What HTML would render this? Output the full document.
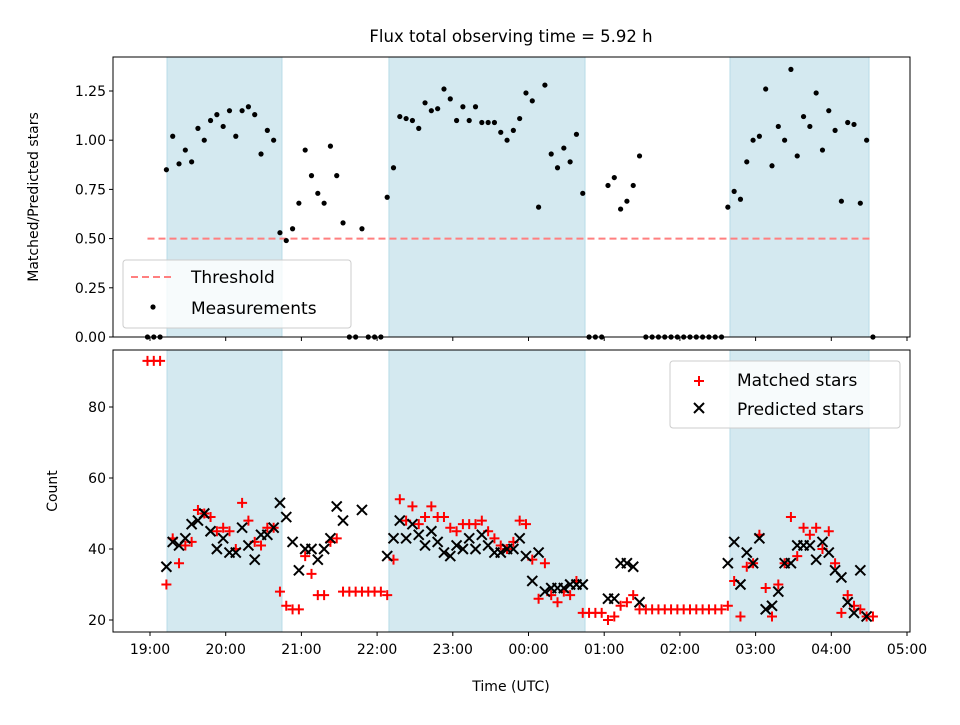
<!DOCTYPE html>
<html><head><meta charset="utf-8">
<style>
body{margin:0;background:#fff;font-family:"Liberation Sans","DejaVu Sans",sans-serif;}
svg text{font-family:"DejaVu Sans","Liberation Sans",sans-serif;fill:#000}
</style></head>
<body>
<svg id="chart" width="960" height="720" viewBox="0 0 960 720" xmlns="http://www.w3.org/2000/svg">
<rect width="960" height="720" fill="#fff"/>
<text x="511" y="42" font-size="16.5" text-anchor="middle">Flux total observing time = 5.92 h</text>
<g id="topPanel"></g>
<g id="botPanel"></g>
<text x="511" y="691" font-size="14" text-anchor="middle">Time (UTC)</text>
<text transform="translate(38,197) rotate(-90)" font-size="14" text-anchor="middle">Matched/Predicted stars</text>
<text transform="translate(57,491) rotate(-90)" font-size="14" text-anchor="middle">Count</text>
</svg>
<script>
const startMin = -2, stepMin = 5;
const ratio = [0,0,0,0.85,1.02,0.88,0.95,0.89,1.06,1.00,1.10,1.13,1.07,1.15,1.02,1.15,1.17,1.13,0.93,1.05,1.00,0.53,0.49,0.55,0.68,0.95,0.82,0.73,0.68,0.97,0.82,0.58,0,0,0.55,0,0,0,0.71,0.86,1.12,1.11,1.10,1.06,1.19,1.15,1.16,1.26,1.21,1.10,1.17,1.10,1.17,1.09,1.09,1.09,1.04,1.00,1.05,1.11,1.24,1.20,0.66,1.28,0.93,0.86,0.96,0.89,1.03,0.73,0,0,0,0.77,0.81,0.65,0.69,0.77,0.92,0,0,0,0,0,0,0,0,0,0,0,0,0,0.66,0.74,0.70,0.89,1.00,1.02,1.26,0.87,1.07,1.00,1.36,0.92,1.12,1.07,1.24,0.95,1.15,1.05,0.69,1.09,1.08,0.68,1.00,0];
const matched = [93,93,93,30,43,36,41,42,51,50,49,45,46,45,40,53,48,42,41,46,46,28,24,23,23,38,33,27,27,42,43,28,28,28,28,28,28,28,27,37,54,48,52,47,49,52,49,49,46,45,47,47,47,48,45,43,41,40,42,48,47,37,26,36,27,25,28,27,31,22,22,22,22,20,21,24,25,27,23,23,23,23,23,23,23,23,23,23,23,23,23,23,24,31,21,35,36,44,29,21,30,36,49,38,46,44,46,40,45,36,22,27,24,23,21,21];
const predicted = [null,null,null,35,42,41,43,47,48,50,45,40,43,39,39,46,41,37,44,44,46,53,49,42,34,40,40,37,40,43,52,48,null,null,51,null,null,null,38,43,48,43,47,44,41,45,42,39,38,41,40,43,40,44,41,39,39,40,40,43,38,31,39,28,29,29,29,30,30,30,null,null,null,26,26,36,36,35,25,null,null,null,null,null,null,null,null,null,null,null,null,null,36,42,30,39,36,43,23,24,28,36,36,41,41,41,37,42,39,34,32,25,22,34,21,null];
const bandStart = [13.5,189.4,459.7];
const bandEnd = [104.6,344.8,569.9];
const threshold = 0.5;
const xTickLabels = ["19:00","20:00","21:00","22:00","23:00","00:00","01:00","02:00","03:00","04:00","05:00"];
const topTicks = [0,0.25,0.5,0.75,1.0,1.25];
const topTickLabels = ["0.00","0.25","0.50","0.75","1.00","1.25"];
const botTicks = [20,40,60,80];

const NS="http://www.w3.org/2000/svg";
const L=113,R=910;
const T1=57,B1=337,T2=350,B2=632;
const X=m=>150+m*75.7/60;
const Y1=v=>337-v*196.8;
const Y2=c=>620-(c-20)*3.55;
function mk(parent,tag,attrs){const e=document.createElementNS(NS,tag);for(const k in attrs)e.setAttribute(k,attrs[k]);parent.appendChild(e);return e;}
const topG=document.getElementById('topPanel'), botG=document.getElementById('botPanel');
const times = ratio.map((_,i)=>startMin+stepMin*i);

[[topG,T1,B1],[botG,T2,B2]].forEach(([g,t,b])=>{
  mk(g,'rect',{x:L,y:t,width:R-L,height:b-t,fill:'#fff'});
  bandStart.forEach((s,i)=>{
    const r=mk(g,'rect',{x:X(s),y:t,width:X(bandEnd[i])-X(s),height:b-t,fill:'#d4e9f0',stroke:'#b8dce7','stroke-width':1});
    
    
  });
});

const th=mk(topG,'line',{x1:X(times[0]),x2:X(times[times.length-1]),y1:Y1(threshold),y2:Y1(threshold),stroke:'#ff7f7f','stroke-width':2,'stroke-dasharray':'7,4'});


ratio.forEach((v,i)=>{
  const c=mk(topG,'circle',{cx:X(times[i]),cy:Y1(v),r:2.6,fill:'#000'});
  
  
});
matched.forEach((v,i)=>{
  if(v==null)return;
  const x=X(times[i]),y=Y2(v);
  const p=mk(botG,'path',{d:`M${x-5},${y}H${x+5}M${x},${y-5}V${y+5}`,stroke:'#f00','stroke-width':2});
  
  
});
predicted.forEach((v,i)=>{
  if(v==null)return;
  const x=X(times[i]),y=Y2(v);
  const p=mk(botG,'path',{d:`M${x-5},${y-5}L${x+5},${y+5}M${x-5},${y+5}L${x+5},${y-5}`,stroke:'#000','stroke-width':2});
  
  
});

[[topG,T1,B1],[botG,T2,B2]].forEach(([g,t,b],pi)=>{
  mk(g,'rect',{x:L,y:t,width:R-L,height:b-t,fill:'none',stroke:'#000','stroke-width':1});
  xTickLabels.forEach((lab,k)=>{
    const x=X(k*60);
    mk(g,'line',{x1:x,x2:x,y1:b,y2:b+4,stroke:'#000'});
    if(pi===1){
      const tx=mk(g,'text',{x:x,y:b+22,'font-size':14,'text-anchor':'middle'});
      tx.textContent=lab;
      
      
    }
  });
});
topTicks.forEach((v,k)=>{
  const y=Y1(v);
  mk(topG,'line',{x1:L-4,x2:L,y1:y,y2:y,stroke:'#000'});
  const tx=mk(topG,'text',{x:L-7,y:y+5,'font-size':14,'text-anchor':'end'});
  tx.textContent=topTickLabels[k];
  
  
});
botTicks.forEach(v=>{
  const y=Y2(v);
  mk(botG,'line',{x1:L-4,x2:L,y1:y,y2:y,stroke:'#000'});
  const tx=mk(botG,'text',{x:L-7,y:y+5,'font-size':14,'text-anchor':'end'});
  tx.textContent=String(v);
  
  
});

const lg1=mk(topG,'g',{});


mk(lg1,'rect',{x:123,y:260,width:228,height:68,rx:3,fill:'#fff','fill-opacity':0.8,stroke:'#ccc'});
mk(lg1,'line',{x1:131,x2:175,y1:277,y2:277,stroke:'#ff7f7f','stroke-width':2,'stroke-dasharray':'7,4'});
let t=mk(lg1,'text',{x:191,y:283,'font-size':17});t.textContent='Threshold';
mk(lg1,'circle',{cx:153,cy:307,r:2.6,fill:'#000'});
t=mk(lg1,'text',{x:191,y:314,'font-size':17});t.textContent='Measurements';

const lg2=mk(botG,'g',{});


mk(lg2,'rect',{x:670,y:361,width:230,height:67,rx:3,fill:'#fff','fill-opacity':0.8,stroke:'#ccc'});
mk(lg2,'path',{d:'M694,381H704M699,376V386',stroke:'#f00','stroke-width':2});
t=mk(lg2,'text',{x:737,y:386,'font-size':17});t.textContent='Matched stars';
mk(lg2,'path',{d:'M694,403L704,413M694,413L704,403',stroke:'#000','stroke-width':2});
t=mk(lg2,'text',{x:737,y:415,'font-size':17});t.textContent='Predicted stars';
</script>
</body></html>
